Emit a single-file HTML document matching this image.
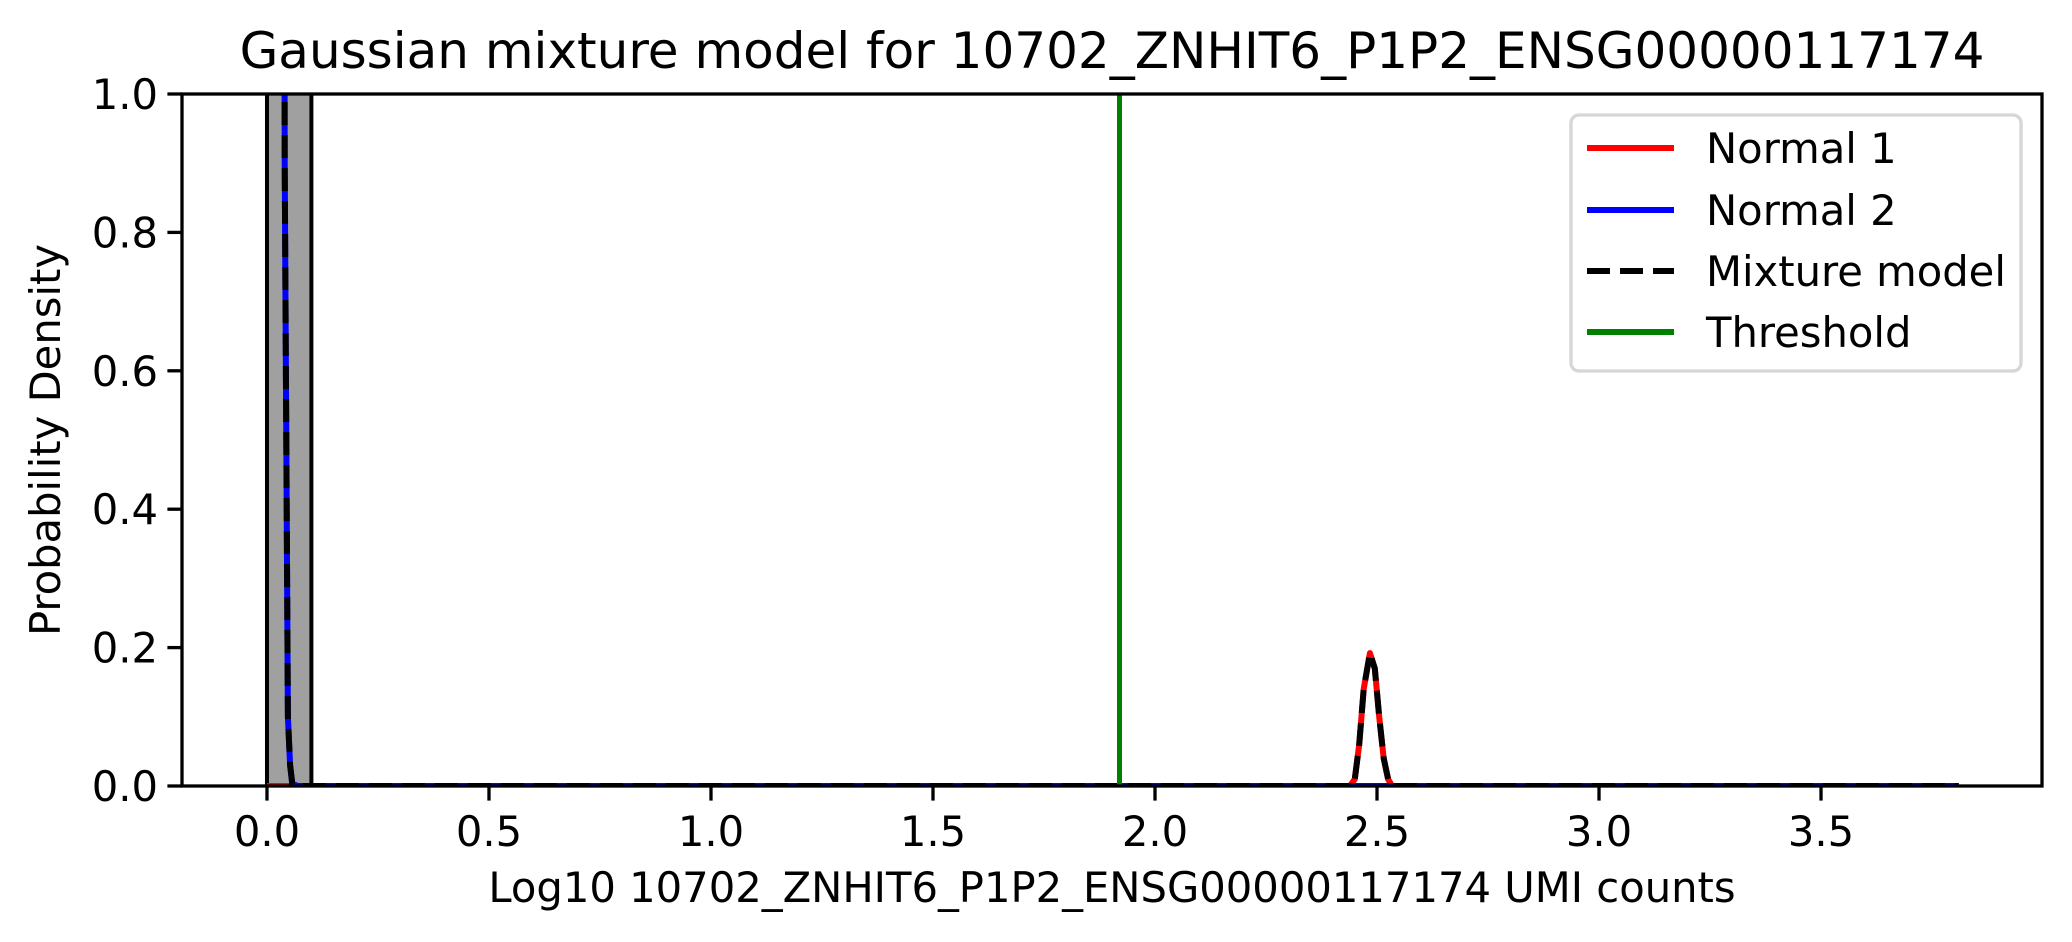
<!DOCTYPE html>
<html><head><meta charset="utf-8"><style>
html,body{margin:0;padding:0;background:#fff;}
svg{display:block;font-family:"DejaVu Sans","Liberation Sans",sans-serif;}
</style></head><body>
<svg id="chart" width="2072" height="942" viewBox="0 0 2072 942" xmlns="http://www.w3.org/2000/svg">
<defs><clipPath id="plotclip"><rect x="182" y="94" width="1860" height="692"/></clipPath></defs>
<rect x="0" y="0" width="2072" height="942" fill="#fff"/>
<text x="1112" y="68" font-size="50" text-anchor="middle">Gaussian mixture model for 10702_ZNHIT6_P1P2_ENSG00000117174</text>
<g id="plot" clip-path="url(#plotclip)"></g>
<g id="axes"></g>
<text x="1112" y="902" font-size="41.7" text-anchor="middle">Log10 10702_ZNHIT6_P1P2_ENSG00000117174 UMI counts</text>
<text transform="translate(60,440) rotate(-90)" font-size="41.7" text-anchor="middle">Probability Density</text>
<g>
<rect x="1571" y="115" width="450" height="256" rx="8" fill="#fff" fill-opacity="0.8" stroke="#d6d6d6" stroke-width="3.3"/>
<g><line x1="1587" y1="148" x2="1674" y2="148" stroke="#ff0000" stroke-width="6"/><text x="1706" y="163" font-size="41.7">Normal 1</text></g>
<g><line x1="1587" y1="210" x2="1674" y2="210" stroke="#0000ff" stroke-width="6"/><text x="1706" y="225" font-size="41.7">Normal 2</text></g>
<g><line x1="1587" y1="271" x2="1674" y2="271" stroke="#000" stroke-width="6" stroke-dasharray="23,10"/><text x="1706" y="286" font-size="41.7">Mixture model</text></g>
<g><line x1="1587" y1="332" x2="1674" y2="332" stroke="#008000" stroke-width="6"/><text x="1706" y="347" font-size="41.7">Threshold</text></g>
</g>
</svg>
<script>
const xTicks = [0.0, 0.5, 1.0, 1.5, 2.0, 2.5, 3.0, 3.5];
const xTickLabels = ["0.0","0.5","1.0","1.5","2.0","2.5","3.0","3.5"];
const yTicks = [0.0, 0.2, 0.4, 0.6, 0.8, 1.0];
const yTickLabels = ["0.0","0.2","0.4","0.6","0.8","1.0"];
const histEdges = [0.0, 0.1];
const histHeights = [9.5];
const normal1X = [0.0, 0.06, 2.40, 2.439, 2.45, 2.46, 2.47, 2.484, 2.495, 2.505, 2.515, 2.525, 2.534, 2.6, 3.81];
const normal1Y = [0.0, 0.0, 0.0, 0.0, 0.01, 0.06, 0.14, 0.192, 0.17, 0.10, 0.04, 0.01, 0.0, 0.0, 0.0];
const normal2X = [0.0, 0.036, 0.040, 0.047, 0.052, 0.057, 0.07, 3.81];
const normal2Y = [9.0, 3.0, 0.9, 0.1, 0.03, 0.003, 0.0, 0.0];
const mixtureX = [0.0, 0.036, 0.040, 0.047, 0.052, 0.057, 0.07, 2.439, 2.45, 2.46, 2.47, 2.484, 2.495, 2.505, 2.515, 2.525, 2.534, 3.81];
const mixtureY = [9.0, 3.0, 0.9, 0.1, 0.03, 0.003, 0.0, 0.0, 0.01, 0.06, 0.14, 0.192, 0.17, 0.10, 0.04, 0.01, 0.0, 0.0];
const thresholdX = [1.92];

const X0=182, X1=2042, Y0=94, Y1=786;
const xMin=-0.1914, xMax=3.9977, yMin=0, yMax=1;
function sx(v){return X0+(v-xMin)/(xMax-xMin)*(X1-X0);}
function sy(v){return Y1-(v-yMin)/(yMax-yMin)*(Y1-Y0);}
const NS="http://www.w3.org/2000/svg";
const plot=document.getElementById('plot'), axes=document.getElementById('axes');
function mk(tag,attrs,parent){const e=document.createElementNS(NS,tag);for(const k in attrs)e.setAttribute(k,attrs[k]);parent.appendChild(e);return e;}

for(let i=0;i<histHeights.length;i++){
  const r=mk('rect',{x:sx(histEdges[i]),y:sy(histHeights[i]),width:sx(histEdges[i+1])-sx(histEdges[i]),height:sy(0)-sy(histHeights[i]),fill:'#a0a0a0',stroke:'#000','stroke-width':4},plot);
  
  
}
function line(xs,ys,stroke,dash,name){
  const d=xs.map((x,i)=>(i?'L':'M')+sx(x).toFixed(1)+','+sy(ys[i]).toFixed(1)).join(' ');
  const p=mk('path',{d:d,fill:'none',stroke:stroke,'stroke-width':6,'stroke-linejoin':'round'},plot);
  if(dash)p.setAttribute('stroke-dasharray',dash);
  
  
}
line(normal1X,normal1Y,'#ff0000',null,'normal-1-curve');
line(normal2X,normal2Y,'#0000ff',null,'normal-2-curve');
line(mixtureX,mixtureY,'#000000','23,10','mixture-model-curve');
thresholdX.forEach(t=>{
  const l=mk('line',{x1:sx(t),x2:sx(t),y1:Y0,y2:Y1,stroke:'#008000','stroke-width':5},plot);
  
  
});

const frame=mk('rect',{x:X0,y:Y0,width:X1-X0,height:Y1-Y0,fill:'none',stroke:'#000','stroke-width':3.3},axes);


xTicks.forEach((v,i)=>{
  const g=mk('g',{},axes);
  
  
  mk('line',{x1:sx(v),x2:sx(v),y1:Y1,y2:Y1+14.6,stroke:'#000','stroke-width':3.3},g);
  const t=mk('text',{x:sx(v),y:846,'font-size':41.7,'text-anchor':'middle'},g);t.textContent=xTickLabels[i];
});
yTicks.forEach((v,i)=>{
  const g=mk('g',{},axes);
  
  
  mk('line',{x1:X0-14.6,x2:X0,y1:sy(v),y2:sy(v),stroke:'#000','stroke-width':3.3},g);
  const t=mk('text',{x:X0-24,y:sy(v)+15,'font-size':41.7,'text-anchor':'end'},g);t.textContent=yTickLabels[i];
});
</script>
</body></html>
